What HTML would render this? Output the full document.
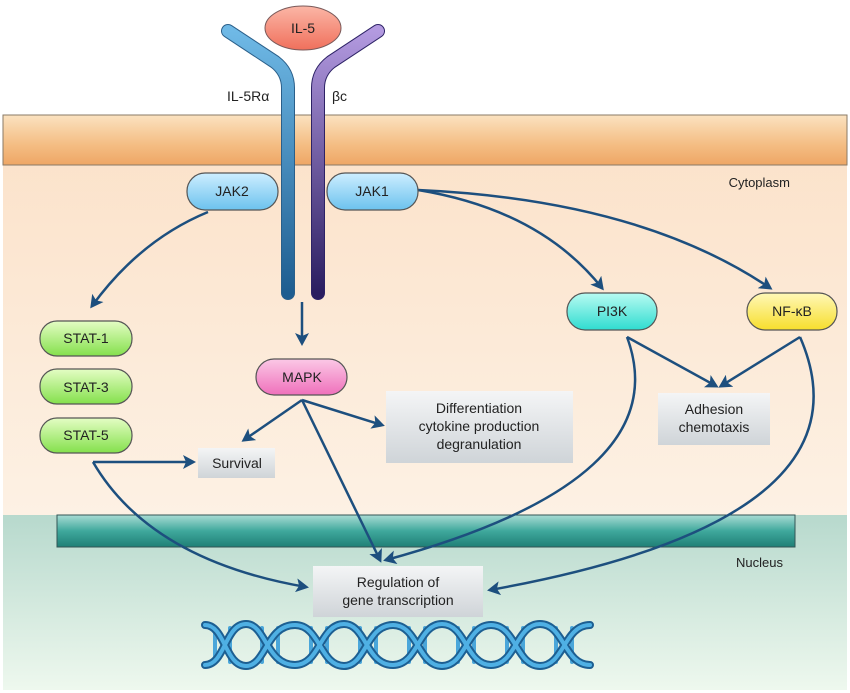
<!DOCTYPE html>
<html><head><meta charset="utf-8"><style>
html,body{margin:0;padding:0;background:#fff}
svg{display:block}
text{font-family:"Liberation Sans",sans-serif;fill:#222}
</style></head><body>
<svg width="850" height="693" viewBox="0 0 850 693">
<defs>
<linearGradient id="mem" x1="0" y1="0" x2="0" y2="1"><stop offset="0" stop-color="#fbe2c0"/><stop offset="0.6" stop-color="#f4bd83"/><stop offset="1" stop-color="#eea665"/></linearGradient>
<linearGradient id="cyto" x1="0" y1="0" x2="0" y2="1"><stop offset="0" stop-color="#fbe1c8"/><stop offset="1" stop-color="#fdf1e4"/></linearGradient>
<linearGradient id="nmem" x1="0" y1="0" x2="0" y2="1"><stop offset="0" stop-color="#a9dcd4"/><stop offset="0.5" stop-color="#3fa89c"/><stop offset="1" stop-color="#1f7f76"/></linearGradient>
<linearGradient id="nuc" x1="0" y1="0" x2="0" y2="1"><stop offset="0" stop-color="#b7d9cd"/><stop offset="1" stop-color="#eef8ee"/></linearGradient>
<linearGradient id="blue" x1="0" y1="0" x2="0" y2="1"><stop offset="0" stop-color="#cdeeff"/><stop offset="1" stop-color="#6cc2ee"/></linearGradient>
<linearGradient id="green" x1="0" y1="0" x2="0" y2="1"><stop offset="0" stop-color="#e4fdc4"/><stop offset="1" stop-color="#84e04c"/></linearGradient>
<linearGradient id="pink" x1="0" y1="0" x2="0" y2="1"><stop offset="0" stop-color="#fbc8e6"/><stop offset="1" stop-color="#ef70bb"/></linearGradient>
<linearGradient id="cyan" x1="0" y1="0" x2="0" y2="1"><stop offset="0" stop-color="#b8fbf2"/><stop offset="1" stop-color="#2fdcd0"/></linearGradient>
<linearGradient id="yel" x1="0" y1="0" x2="0" y2="1"><stop offset="0" stop-color="#fff8b8"/><stop offset="1" stop-color="#f7de2c"/></linearGradient>
<linearGradient id="red" x1="0" y1="0" x2="0" y2="1"><stop offset="0" stop-color="#fbb6a6"/><stop offset="1" stop-color="#f0705c"/></linearGradient>
<linearGradient id="box" x1="0" y1="0" x2="0" y2="1"><stop offset="0" stop-color="#f4f5f6"/><stop offset="1" stop-color="#cfd4d8"/></linearGradient>
<linearGradient id="rA" x1="0" y1="0" x2="0" y2="1"><stop offset="0" stop-color="#6fb9e6"/><stop offset="1" stop-color="#1e5d90"/></linearGradient>
<linearGradient id="rB" x1="0" y1="0" x2="0" y2="1"><stop offset="0" stop-color="#b39ae0"/><stop offset="1" stop-color="#2a1d60"/></linearGradient>
<marker id="ah" markerWidth="14" markerHeight="14" refX="10" refY="7" orient="auto" markerUnits="userSpaceOnUse"><path d="M0,0 L13,7 L0,14 L3,7 Z" fill="#1d4f7e"/></marker>
</defs>
<rect x="3" y="115" width="844" height="400" fill="url(#cyto)"/>
<rect x="3" y="115" width="844" height="50" fill="url(#mem)" stroke="#8a7a66" stroke-width="1"/>
<rect x="3" y="515" width="844" height="175" fill="url(#nuc)"/>
<rect x="57" y="515" width="738" height="32" fill="url(#nmem)" stroke="#355" stroke-width="1"/>
<text x="790" y="187" font-size="13" text-anchor="end">Cytoplasm</text>
<text x="783" y="567" font-size="13" text-anchor="end">Nucleus</text>
<!-- receptors -->
<path d="M228,31 L275,62 Q288,72 288,88 L288,293" fill="none" stroke="#2a5f8a" stroke-width="14" stroke-linecap="round"/>
<path d="M228,31 L275,62 Q288,72 288,88 L288,293" fill="none" stroke="url(#rA)" stroke-width="12" stroke-linecap="round"/>
<path d="M378,31 L331,62 Q318,72 318,88 L318,293" fill="none" stroke="#2d2266" stroke-width="14" stroke-linecap="round"/>
<path d="M378,31 L331,62 Q318,72 318,88 L318,293" fill="none" stroke="url(#rB)" stroke-width="12" stroke-linecap="round"/>
<ellipse cx="303" cy="28" rx="38" ry="22" fill="url(#red)" stroke="#7a5a5a"/>
<text x="303" y="33" font-size="14" text-anchor="middle">IL-5</text>
<text x="227" y="101" font-size="14">IL-5Rα</text>
<text x="332" y="101" font-size="14">βc</text>
<!-- arrows -->
<g fill="none" stroke="#1d4f7e" stroke-width="2.5" marker-end="url(#ah)">
<path d="M208,212 Q140,240 92,306"/>
<path d="M418,190 Q540,210 602,288"/>
<path d="M418,190 Q640,200 770,288"/>
<path d="M302,302 L302,343"/>
<path d="M302,400 L244,440"/>
<path d="M302,400 L382,425"/>
<path d="M302,400 L380,560"/>
<path d="M93,462 L193,462"/>
<path d="M93,462 Q150,560 306,587"/>
<path d="M627,337 L716,386"/>
<path d="M800,337 L721,386"/>
<path d="M627,337 Q680,480 386,560"/>
<path d="M800,337 Q880,520 490,590"/>
</g>
<!-- pills -->
<g stroke="#555" stroke-width="1.2">
<rect x="187" y="173" width="91" height="37" rx="18" fill="url(#blue)"/>
<rect x="327" y="173" width="91" height="37" rx="18" fill="url(#blue)"/>
<rect x="40" y="321" width="92" height="35" rx="17" fill="url(#green)"/>
<rect x="40" y="369" width="92" height="35" rx="17" fill="url(#green)"/>
<rect x="40" y="418" width="92" height="35" rx="17" fill="url(#green)"/>
<rect x="256" y="359" width="91" height="36" rx="18" fill="url(#pink)"/>
<rect x="567" y="293" width="90" height="37" rx="18" fill="url(#cyan)"/>
<rect x="747" y="293" width="90" height="37" rx="18" fill="url(#yel)"/>
</g>
<g font-size="14" text-anchor="middle">
<text x="232" y="196">JAK2</text><text x="372" y="196">JAK1</text>
<text x="86" y="343">STAT-1</text><text x="86" y="392">STAT-3</text><text x="86" y="440">STAT-5</text>
<text x="302" y="382">MAPK</text><text x="612" y="316">PI3K</text><text x="792" y="316">NF-κB</text>
</g>
<!-- boxes -->
<rect x="198" y="448" width="77" height="30" fill="url(#box)"/>
<text x="237" y="468" font-size="14" text-anchor="middle">Survival</text>
<rect x="386" y="391" width="187" height="72" fill="url(#box)"/>
<text x="479" y="413" font-size="14" text-anchor="middle">Differentiation</text>
<text x="479" y="431" font-size="14" text-anchor="middle">cytokine production</text>
<text x="479" y="449" font-size="14" text-anchor="middle">degranulation</text>
<rect x="658" y="393" width="112" height="52" fill="url(#box)"/>
<text x="714" y="414" font-size="14" text-anchor="middle">Adhesion</text>
<text x="714" y="432" font-size="14" text-anchor="middle">chemotaxis</text>
<rect x="313" y="566" width="170" height="51" fill="url(#box)"/>
<text x="398" y="587" font-size="14" text-anchor="middle">Regulation of</text>
<text x="398" y="605" font-size="14" text-anchor="middle">gene transcription</text>
<!-- DNA -->
<g fill="none" stroke-linecap="round">
<g stroke="#4aa6da" stroke-width="4">
<line x1="215" y1="630" x2="215" y2="660"/><line x1="230" y1="628" x2="230" y2="662"/><line x1="262" y1="628" x2="262" y2="662"/><line x1="278" y1="628" x2="278" y2="662"/><line x1="311" y1="628" x2="311" y2="662"/><line x1="327" y1="628" x2="327" y2="662"/><line x1="360" y1="628" x2="360" y2="662"/><line x1="376" y1="628" x2="376" y2="662"/><line x1="409" y1="628" x2="409" y2="662"/><line x1="425" y1="628" x2="425" y2="662"/><line x1="458" y1="628" x2="458" y2="662"/><line x1="474" y1="628" x2="474" y2="662"/><line x1="507" y1="628" x2="507" y2="662"/><line x1="523" y1="628" x2="523" y2="662"/><line x1="556" y1="628" x2="556" y2="662"/><line x1="572" y1="628" x2="572" y2="662"/>
</g>
<path d="M205,625 C225,625 225,666 246,666 C266,666 266,625 295,625 C320,625 320,666 344,666 C366,666 366,625 393,625 C418,625 418,666 442,666 C466,666 466,625 491,625 C516,625 516,666 540,666 C564,666 564,625 590,625" stroke="#1d5f92" stroke-width="8"/>
<path d="M205,665 C225,665 225,624 246,624 C266,624 266,665 295,665 C320,665 320,624 344,624 C366,624 366,665 393,665 C418,665 418,624 442,624 C466,624 466,665 491,665 C516,665 516,624 540,624 C564,624 564,665 590,665" stroke="#1d5f92" stroke-width="8"/>
<path d="M205,625 C225,625 225,666 246,666 C266,666 266,625 295,625 C320,625 320,666 344,666 C366,666 366,625 393,625 C418,625 418,666 442,666 C466,666 466,625 491,625 C516,625 516,666 540,666 C564,666 564,625 590,625" stroke="#4fb0e4" stroke-width="4"/>
<path d="M205,665 C225,665 225,624 246,624 C266,624 266,665 295,665 C320,665 320,624 344,624 C366,624 366,665 393,665 C418,665 418,624 442,624 C466,624 466,665 491,665 C516,665 516,624 540,624 C564,624 564,665 590,665" stroke="#4fb0e4" stroke-width="4"/>
</g>
</svg>
</body></html>
